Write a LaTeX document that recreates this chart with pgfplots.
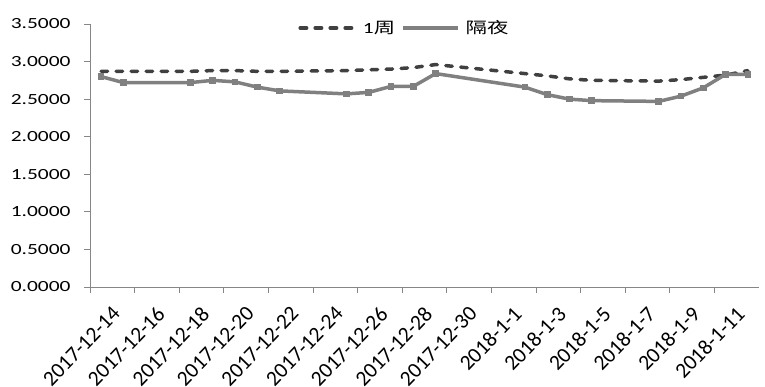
\documentclass[border=0pt]{standalone}
\usepackage{pgfplots}
\pgfplotsset{compat=1.18}
\usepackage{fontspec}
\setmainfont{Carlito}
\newfontfamily\wide[FakeStretch=1.38]{Carlito}
\newfontfamily\cjk[FakeStretch=1.38]{Noto Sans CJK SC}
\definecolor{weekc}{HTML}{404040}
\definecolor{onc}{HTML}{808080}
\definecolor{axc}{HTML}{868686}
\pgfplotstableread{
x on week
0.5 2.80 2.87
1.5 2.72 2.87
4.5 2.72 2.87
5.5 2.75 2.88
6.5 2.73 2.88
7.5 2.66 2.87
8.5 2.61 2.87
11.5 2.57 2.88
12.5 2.59 2.89
13.5 2.67 2.90
14.5 2.67 2.92
15.5 2.84 2.96
19.5 2.66 2.84
20.5 2.56 2.81
21.5 2.50 2.77
22.5 2.48 2.75
25.5 2.47 2.74
26.5 2.54 2.76
27.5 2.65 2.79
28.5 2.83 2.82
29.5 2.83 2.88
}\datatable
\begin{document}
\begin{tikzpicture}
\useasboundingbox (-90pt,-100pt) rectangle (675pt,287pt);
\begin{axis}[
  at={(0pt,0pt)}, anchor=south west,
  scale only axis, width=669pt, height=263pt,
  xmin=0, xmax=30, ymin=0, ymax=3.5,
  axis x line=bottom, axis y line=left,
  axis line style={-, color=axc, line width=0.8pt},
  tick style={color=axc, line width=0.8pt},
  tick align=outside, major tick length=6pt,
  xtick={0,2,...,28},
  xticklabels={2017-12-14,2017-12-16,2017-12-18,2017-12-20,2017-12-22,2017-12-24,2017-12-26,2017-12-28,2017-12-30,2018-1-1,2018-1-3,2018-1-5,2018-1-7,2018-1-9,2018-1-11},
  ytick={0,0.5,...,3.5},
  /pgf/number format/fixed, /pgf/number format/fixed zerofill, /pgf/number format/precision=4,
  /pgf/number format/assume math mode=true,
  yticklabel style={font=\wide\fontsize{15.5}{18}\selectfont, xshift=-10pt},
  xticklabel style={font=\fontsize{21.5}{24}\selectfont, rotate=46, anchor=east, xshift=6pt, yshift=-31pt, inner sep=0pt},
  legend style={at={(0.47,0.985)}, anchor=center, draw=none, fill=none, legend columns=-1,
    font=\wide\fontsize{15.5}{18}\selectfont, column sep=4pt},
  legend image code/.code={\draw[#1,mark=none] (0pt,0pt) -- (55pt,0pt);},
]
\addplot[color=weekc, line width=3.5pt, line cap=round, dash pattern=on 6.5pt off 8.5pt] table[x=x,y=week]{\datatable};
\addlegendentry{1{\cjk 周}}
\addplot[color=onc, line width=3.5pt, mark=square*, mark size=1.6pt, mark options={solid}] table[x=x,y=on]{\datatable};
\addlegendentry{{\cjk 隔夜}}
\end{axis}
\end{tikzpicture}
\end{document}
